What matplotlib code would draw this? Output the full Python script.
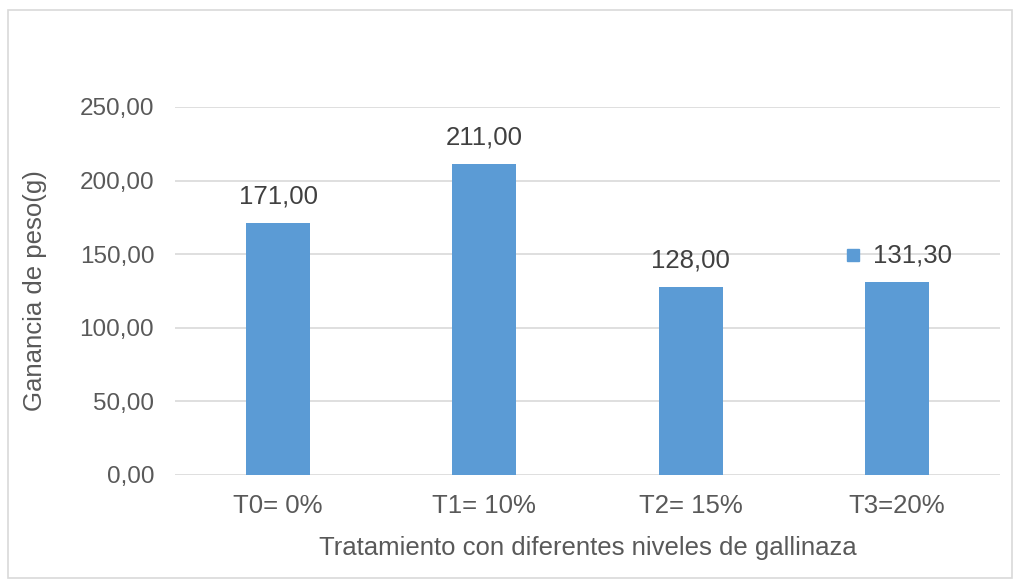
import matplotlib.pyplot as plt
from matplotlib.patches import Rectangle

categorias = ['T0= 0%', 'T1= 10%', 'T2= 15%', 'T3=20%']
ganancia = [171.00, 211.00, 128.00, 131.30]
yticks = [0, 50, 100, 150, 200, 250]

plt.rcParams['font.family'] = ['Liberation Sans', 'DejaVu Sans']
gris = '#595959'
azul = '#5b9bd5'

fig = plt.figure(figsize=(10.21, 5.86), dpi=100)
ax = fig.add_axes([175 / 1021, 1 - 475 / 586, 825 / 1021, 368 / 586])

x = range(len(categorias))
ax.bar(x, ganancia, width=0.31, color=azul, zorder=3)

ax.set_xlim(-0.5, len(categorias) - 0.5)
ax.set_ylim(0, 250)
ax.set_yticks(yticks)
ax.set_yticklabels([f'{v:.2f}'.replace('.', ',') for v in yticks])
ax.set_xticks(list(x))
ax.set_xticklabels(categorias)
ax.tick_params(axis='y', length=0, labelsize=17.5, colors=gris, pad=15)
ax.tick_params(axis='x', length=0, labelsize=18.5, colors=gris, pad=14)
ax.grid(axis='y', color='#d9d9d9', linewidth=1.2, zorder=0)
for s in ax.spines.values():
    s.set_visible(False)

ax.set_ylabel('Ganancia de peso(g)', fontsize=18.5, color=gris, va='center')
ax.yaxis.set_label_coords((35 - 175) / 825, 0.5)
ax.set_xlabel('Tratamiento con diferentes niveles de gallinaza', fontsize=18.5,
              color=gris, va='center')
ax.xaxis.set_label_coords(0.5, (475 - 548) / 368)

# etiquetas de datos
for i, v in enumerate(ganancia):
    lbl = f'{v:.2f}'.replace('.', ',')
    if i == len(ganancia) - 1:
        ax.text(i + 0.075, v + 18, lbl, ha='center', va='center',
                fontsize=18.5, color='#404040')
        ax.plot(i - 0.215, v + 18.3, marker='s', markersize=8,
                color=azul, linestyle='none', zorder=4)
    else:
        ax.text(i, v + 18, lbl, ha='center', va='center',
                fontsize=18.5, color='#404040')

fig.patches.append(Rectangle((8 / 1021, 1 - 578 / 586), 1004 / 1021, 568 / 586,
                             transform=fig.transFigure, fill=False,
                             edgecolor='#d9d9d9', linewidth=1.2))

fig.savefig('out.png', dpi=100)
